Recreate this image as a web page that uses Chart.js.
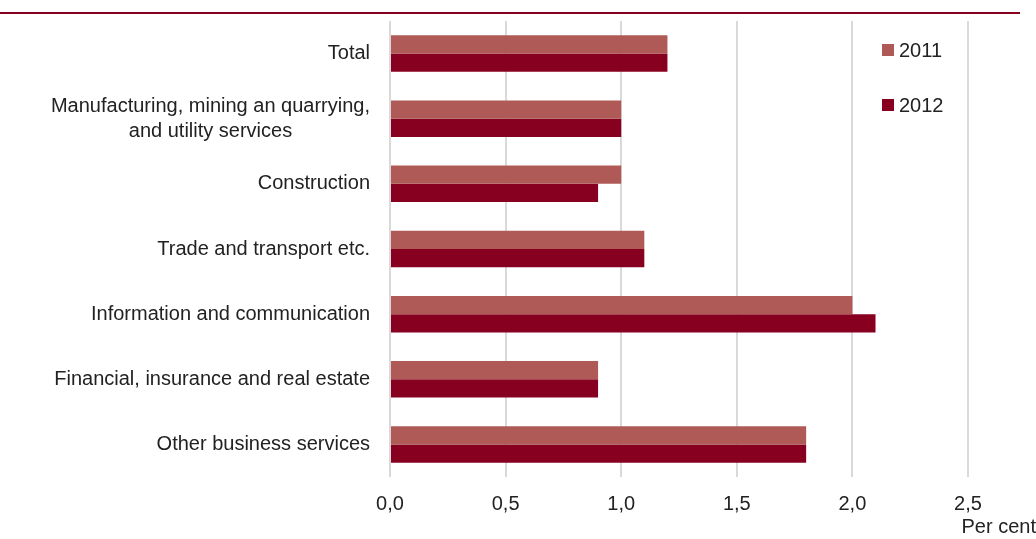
<!DOCTYPE html>
<html>
<head>
<meta charset="utf-8">
<script src="https://cdn.jsdelivr.net/npm/chart.js@4.4.1/dist/chart.umd.min.js"></script>
<style>
  html, body { margin: 0; padding: 0; background: #fff; }
  #wrap { width: 1036px; height: 539px; position: relative; }
</style>
</head>
<body>
<div id="wrap"><canvas id="c" width="1036" height="539"></canvas></div>
<script>
// Sectors (multi-line labels are arrays of lines)
const categories = [
  'Total',
  ['Manufacturing, mining an quarrying,', 'and utility services'],
  'Construction',
  'Trade and transport etc.',
  'Information and communication',
  'Financial, insurance and real estate',
  'Other business services'
];
const seriesNames = ['2011', '2012'];
const values2011 = [1.2, 1.0, 1.0, 1.1, 2.0, 0.9, 1.8];
const values2012 = [1.2, 1.0, 0.9, 1.1, 2.1, 0.9, 1.8];
const xTicks = [0, 0.5, 1.0, 1.5, 2.0, 2.5];
const unitLabel = 'Per cent';

const COL_2011 = '#b05a57';
const COL_2012 = '#870020';
const TEXT = '#222222';
const FONT = '"Liberation Sans", Arial, sans-serif';
const FS = 20;

const fmt = v => v.toFixed(1).replace('.', ',');

// Rule across the top, category labels with centred lines, legend and unit
const decor = {
  id: 'decor',
  beforeDraw(chart) {
    const ctx = chart.ctx;
    ctx.save();
    ctx.fillStyle = '#870020';
    ctx.fillRect(0, 12, 1020, 2);
    ctx.restore();
  },
  afterDraw(chart) {
    const ctx = chart.ctx;
    const y = chart.scales.y;
    ctx.save();
    ctx.font = FS + 'px ' + FONT;
    ctx.fillStyle = TEXT;
    ctx.textBaseline = 'middle';
    ctx.textAlign = 'center';
    const right = chart.chartArea.left - 20;
    const lh = 25;
    categories.forEach((lab, i) => {
      const lines = Array.isArray(lab) ? lab : [lab];
      const w = Math.max(...lines.map(l => ctx.measureText(l).width));
      const cx = right - w / 2;
      const cy = y.getPixelForValue(i);
      const y0 = cy - (lines.length - 1) * lh / 2;
      lines.forEach((l, k) => ctx.fillText(l, cx, y0 + k * lh));
    });
    // legend
    ctx.textAlign = 'left';
    chart.data.datasets.forEach((ds, i) => {
      const ly = 50 + i * 55;
      ctx.fillStyle = ds.backgroundColor;
      ctx.fillRect(882, ly - 6, 12, 12);
      ctx.fillStyle = TEXT;
      ctx.fillText(ds.label, 899, ly + 1);
    });
    // unit
    ctx.textAlign = 'right';
    ctx.fillText(unitLabel, 1036, 527);
    ctx.restore();
  }
};

new Chart(document.getElementById('c'), {
  type: 'bar',
  data: {
    labels: categories,
    datasets: [
      { label: seriesNames[0], data: values2011, backgroundColor: COL_2011,
        barPercentage: 1.0, categoryPercentage: 0.56 },
      { label: seriesNames[1], data: values2012, backgroundColor: COL_2012,
        barPercentage: 1.0, categoryPercentage: 0.56 }
    ]
  },
  options: {
    indexAxis: 'y',
    responsive: false,
    animation: false,
    devicePixelRatio: 1,
    layout: { padding: { top: 21, right: 68, left: 0, bottom: 0 } },
    plugins: { legend: { display: false }, tooltip: { enabled: false } },
    scales: {
      x: {
        min: 0, max: 2.5,
        afterBuildTicks(s) { s.ticks = xTicks.map(v => ({ value: v })); },
        afterFit(s) { s.height = 62; },
        grid: { color: '#d9d9d9', lineWidth: 2, drawTicks: false },
        border: { display: false },
        ticks: {
          color: TEXT, padding: 15,
          font: { family: FONT, size: FS },
          callback: v => fmt(v)
        }
      },
      y: {
        afterFit(s) { s.width = 390; },
        grid: { display: false },
        border: { display: false },
        ticks: { display: false }
      }
    }
  },
  plugins: [decor]
});
</script>
</body>
</html>
